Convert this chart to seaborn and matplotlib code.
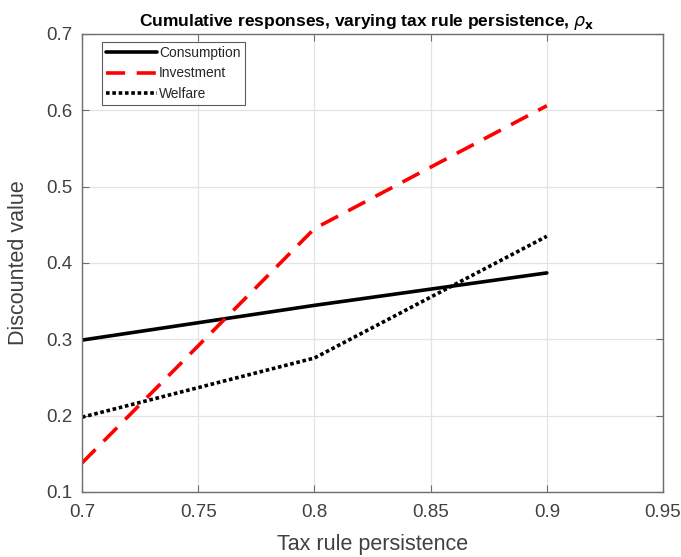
import matplotlib
matplotlib.use("Agg")
import matplotlib.pyplot as plt
import seaborn as sns
import pandas as pd

# Tax rule persistence values and discounted cumulative responses
persistence = [0.7, 0.8, 0.9]
consumption = [0.299, 0.3445, 0.387]
investment = [0.138, 0.445, 0.606]
welfare = [0.198, 0.2755, 0.435]

series_names = ["Consumption", "Investment", "Welfare"]
x_ticks = [0.7, 0.75, 0.8, 0.85, 0.9, 0.95]
y_ticks = [0.1, 0.2, 0.3, 0.4, 0.5, 0.6, 0.7]

df = pd.DataFrame({
    "persistence": persistence * 3,
    "value": consumption + investment + welfare,
    "series": [s for s in series_names for _ in persistence],
})

sns.set_style("white")
plt.rcParams["font.family"] = ["Liberation Sans", "DejaVu Sans"]
plt.rcParams["mathtext.fontset"] = "dejavusans"

fig = plt.figure(figsize=(6.81, 5.57), dpi=100)
ax = fig.add_axes([0.1204, 0.1167, 0.8532, 0.8223])

palette = {"Consumption": "black", "Investment": "#ff0000", "Welfare": "black"}
dashes = {"Consumption": "", "Investment": (5.3, 3.2), "Welfare": (1.0, 0.75)}

sns.lineplot(data=df, x="persistence", y="value", hue="series", style="series",
             palette=palette, dashes=dashes, linewidth=2.6, ax=ax,
             hue_order=series_names, style_order=series_names)

ax.set_xlim(0.7, 0.95)
ax.set_ylim(0.1, 0.7)
ax.set_xticks(x_ticks)
ax.set_xticklabels([f"{t:g}" for t in x_ticks])
ax.set_yticks(y_ticks)
ax.set_yticklabels([f"{t:g}" for t in y_ticks])
ax.grid(True, color="#e3e3e3", linewidth=0.9)
ax.set_axisbelow(True)

for sp in ax.spines.values():
    sp.set_color("#6e6e6e")
    sp.set_linewidth(1.0)

ax.tick_params(axis="both", which="both", direction="in", length=5,
               color="#6e6e6e", labelsize=13.5, labelcolor="#404040")
ax.tick_params(axis="x", pad=9)
ax.tick_params(axis="y", pad=7)
ax.tick_params(top=True, right=True, bottom=True, left=True)
ax.tick_params(labeltop=False, labelright=False)

ax.set_xlabel("Tax rule persistence", fontsize=15.5, color="#404040", labelpad=9)
ax.set_ylabel("Discounted value", fontsize=15.5, color="#404040", labelpad=12)
ax.set_title(r"Cumulative responses, varying tax rule persistence, $\rho_{\mathbf{x}}$",
             fontsize=12.5, fontweight="bold", color="black", pad=6, x=0.49)

leg = ax.legend(loc="upper left", bbox_to_anchor=(0.034, 0.983), fontsize=9.9,
                frameon=True, fancybox=False, handlelength=3.7, handletextpad=0.12,
                borderpad=0.33, labelspacing=0.45, borderaxespad=0)
leg.get_frame().set_edgecolor("#333333")
leg.get_frame().set_linewidth(0.8)
for t in leg.get_texts():
    t.set_color("#262626")

fig.savefig("out.png", dpi=100, facecolor="white")
